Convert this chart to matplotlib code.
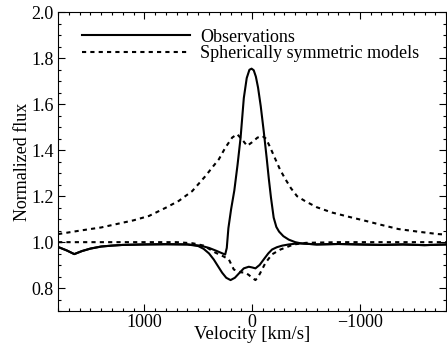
import matplotlib
matplotlib.use('Agg')
import matplotlib.pyplot as plt
from matplotlib.ticker import MultipleLocator

plt.rcParams.update({
    'font.family': 'serif',
    'font.serif': ['Liberation Serif', 'DejaVu Serif'],
    'mathtext.fontset': 'dejavuserif',
})

# observed line with emission peak
obs_em_v = [1800, 1720, 1650, 1580, 1500, 1400, 1300, 1200, 1000, 800, 600,
            480, 400, 330, 280, 250, 235, 220, 195, 165, 135, 107, 77, 50,
            25, 5, -15, -35, -55, -80, -108, -135, -155, -175, -200, -225,
            -250, -290, -340, -400, -450, -600, -800, -1000, -1200, -1400,
            -1600, -1800]
obs_em_f = [0.979, 0.964, 0.948, 0.961, 0.972, 0.981, 0.985, 0.988, 0.990,
            0.991, 0.990, 0.985, 0.975, 0.962, 0.952, 0.946, 0.975, 1.061,
            1.143, 1.225, 1.337, 1.454, 1.627, 1.714, 1.750, 1.755, 1.748,
            1.720, 1.673, 1.592, 1.482, 1.367, 1.276, 1.194, 1.107, 1.066,
            1.046, 1.026, 1.011, 1.000, 0.995, 0.990, 0.992, 0.990, 0.988,
            0.990, 0.987, 0.990]

# observed absorption line
obs_ab_v = [1800, 1720, 1650, 1580, 1500, 1400, 1300, 1200, 1000, 800, 600,
            500, 450, 400, 355, 320, 278, 240, 200, 160, 120, 77, 31, 0,
            -31, -70, -108, -150, -185, -230, -280, -340, -432, -600, -800,
            -1000, -1200, -1400, -1600, -1800]
obs_ab_f = [0.979, 0.964, 0.948, 0.961, 0.972, 0.981, 0.985, 0.988, 0.990,
            0.991, 0.990, 0.983, 0.971, 0.951, 0.924, 0.898, 0.867, 0.845,
            0.835, 0.845, 0.865, 0.886, 0.893, 0.890, 0.886, 0.901, 0.925,
            0.951, 0.968, 0.978, 0.985, 0.990, 0.995, 0.990, 0.992, 0.990,
            0.988, 0.990, 0.987, 0.990]

# spherically symmetric model, emission
mod_em_v = [1800, 1574, 1400, 1265, 1100, 957, 800, 679, 556, 432, 370, 308,
            250, 185, 139, 90, 46, 0, -50, -95, -130, -170, -216, -260, -309,
            -360, -417, -494, -600, -741, -900, -1050, -1200, -1358, -1550,
            -1729, -1800]
mod_em_f = [1.035, 1.052, 1.064, 1.078, 1.095, 1.114, 1.150, 1.180, 1.222,
            1.288, 1.325, 1.361, 1.410, 1.455, 1.470, 1.445, 1.419, 1.435,
            1.455, 1.462, 1.450, 1.410, 1.361, 1.315, 1.274, 1.235, 1.200,
            1.178, 1.152, 1.129, 1.110, 1.093, 1.075, 1.057, 1.045, 1.035,
            1.033]

# spherically symmetric model, absorption
mod_ab_v = [1800, 1400, 1000, 700, 550, 450, 339, 270, 216, 170, 107, 61,
            30, 0, -31, -55, -78, -124, -185, -263, -386, -500, -800, -1200,
            -1800]
mod_ab_f = [1.000, 1.000, 1.000, 1.000, 0.995, 0.985, 0.954, 0.939, 0.925,
            0.881, 0.869, 0.867, 0.857, 0.845, 0.835, 0.848, 0.868, 0.910,
            0.947, 0.968, 0.990, 0.997, 1.000, 1.000, 1.000]


def main():
    fig = plt.figure(figsize=(4.47, 3.43), dpi=100)
    ax = fig.add_axes([0.130, 0.093, 0.868, 0.871])

    dash = (0, (2, 2))
    ax.plot(obs_em_v, obs_em_f, color='black', lw=1.5, label='Observations')
    ax.plot(obs_ab_v, obs_ab_f, color='black', lw=1.5)
    ax.plot(mod_em_v, mod_em_f, color='black', lw=1.5, linestyle=dash,
            label='Spherically symmetric models')
    ax.plot(mod_ab_v, mod_ab_f, color='black', lw=1.5, linestyle=dash)

    ax.set_xlim(1800, -1800)
    ax.set_ylim(0.7, 2.0)
    ax.xaxis.set_major_locator(MultipleLocator(1000))
    ax.xaxis.set_minor_locator(MultipleLocator(100))
    ax.yaxis.set_major_locator(MultipleLocator(0.2))
    ax.yaxis.set_minor_locator(MultipleLocator(0.05))
    ax.yaxis.set_major_formatter(plt.FormatStrFormatter('%.1f'))
    ax.tick_params(which='both', direction='in', top=True, right=True,
                   labelsize=13, width=0.8)
    ax.tick_params(which='major', length=5, pad=3)
    ax.tick_params(axis='x', which='major', pad=2)
    ax.tick_params(which='minor', length=2.5)

    ax.set_xlabel('Velocity [km/s]', fontsize=13.5, labelpad=-3.5)
    ax.set_ylabel('Normalized flux', fontsize=13, labelpad=0.5)

    ax.legend(loc='upper left', frameon=False, fontsize=13,
              handlelength=6.0, handletextpad=0.55, labelspacing=-0.05,
              borderpad=0, borderaxespad=0, bbox_to_anchor=(0.062, 0.945))

    fig.savefig('out.png', dpi=100)


if __name__ == '__main__':
    main()
